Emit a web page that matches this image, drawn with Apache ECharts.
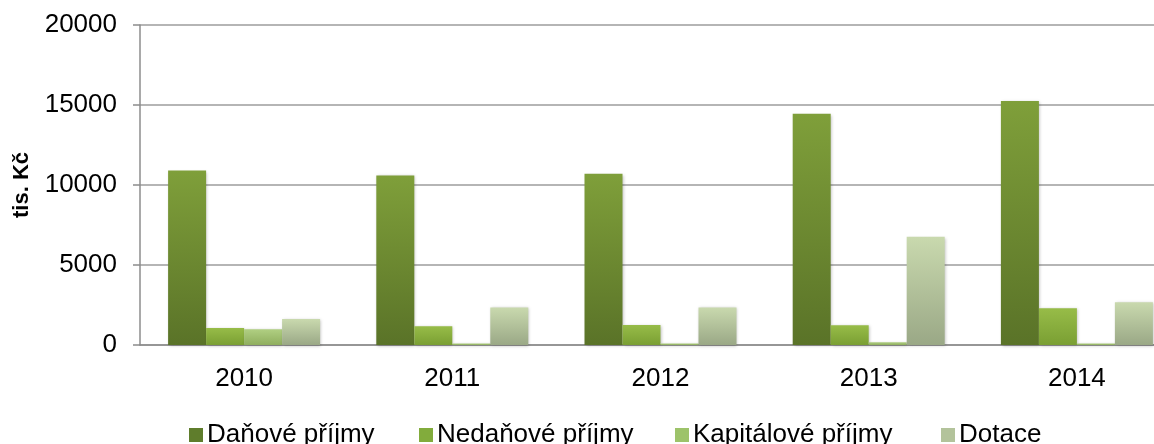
<!DOCTYPE html>
<html>
<head>
<meta charset="utf-8">
<script src="https://cdn.jsdelivr.net/npm/echarts@6/dist/echarts.min.js"></script>
<style>
  html, body { margin: 0; padding: 0; background: #fff; overflow: hidden; }
  #main { width: 1200px; height: 444px; }
</style>
</head>
<body>
<div id="main"></div>
<script>
var years = ['2010', '2011', '2012', '2013', '2014'];
var seriesNames = ['Daňové příjmy', 'Nedaňové příjmy', 'Kapitálové příjmy', 'Dotace'];
var danove = [10900, 10600, 10700, 14450, 15250];
var nedanove = [1060, 1170, 1250, 1230, 2290];
var kapitalove = [980, 100, 100, 170, 100];
var dotace = [1620, 2350, 2350, 6770, 2670];
var yTicks = [0, 5000, 10000, 15000, 20000];

// barvy: [nahore, dole, legenda]
var colors = [
  ['#7f9f3a', '#5a7328', '#5f7d2c'],
  ['#97bc48', '#7a9f33', '#82ac3c'],
  ['#b0cf82', '#8fae5e', '#9dc36a'],
  ['#c9d9ae', '#9aa886', '#b3c39b']
];
// pozice polozek legendy (x)
var legendLeft = [184, 414, 670, 936];

function grad(c) {
  return new echarts.graphic.LinearGradient(0, 0, 0, 1, [
    { offset: 0, color: c[0] },
    { offset: 1, color: c[1] }
  ]);
}

var values = [danove, nedanove, kapitalove, dotace];
var series = seriesNames.map(function (name, i) {
  return {
    name: name,
    type: 'bar',
    barGap: 0,
    barCategoryGap: '27%',
    data: values[i],
    itemStyle: {
      color: grad(colors[i]),
      shadowColor: 'rgba(0,0,0,0.25)',
      shadowBlur: 3,
      shadowOffsetX: 1,
      shadowOffsetY: 1
    }
  };
});

var legends = seriesNames.map(function (n, i) {
  return {
    left: legendLeft[i],
    top: 417,
    itemWidth: 14,
    itemHeight: 14,
    icon: 'rect',
    selectedMode: false,
    textStyle: { fontFamily: 'Liberation Sans', fontSize: 26, color: '#000', padding: [0, 0, 0, -1] },
    data: [{ name: n, itemStyle: { color: colors[i][2] } }]
  };
});

var myChart = echarts.init(document.getElementById('main'));
var option = {
  animation: false,
  grid: { left: 140, top: 25, width: 1041, height: 320 },
  legend: legends,
  xAxis: {
    type: 'category',
    data: years,
    axisLine: { lineStyle: { color: '#8c8c8c', width: 1.5 } },
    axisTick: { show: false },
    axisLabel: { fontFamily: 'Liberation Sans', fontSize: 26, color: '#000', margin: 21 }
  },
  yAxis: {
    type: 'value',
    min: yTicks[0],
    max: yTicks[yTicks.length - 1],
    interval: 5000,
    name: 'tis. Kč',
    nameLocation: 'middle',
    nameGap: 107,
    nameTextStyle: { fontFamily: 'Liberation Sans', fontSize: 22, fontWeight: 'bold', color: '#000' },
    axisLine: { show: true, lineStyle: { color: '#8c8c8c', width: 1.5 } },
    axisTick: { show: true, length: 7, lineStyle: { color: '#8c8c8c', width: 1.5 } },
    axisLabel: { fontFamily: 'Liberation Sans', fontSize: 26, color: '#000', margin: 23, formatter: function (v) { return String(v); } },
    splitLine: { lineStyle: { color: '#9c9c9c', width: 1.5 } }
  },
  series: series
};
myChart.setOption(option);
</script>
</body>
</html>
